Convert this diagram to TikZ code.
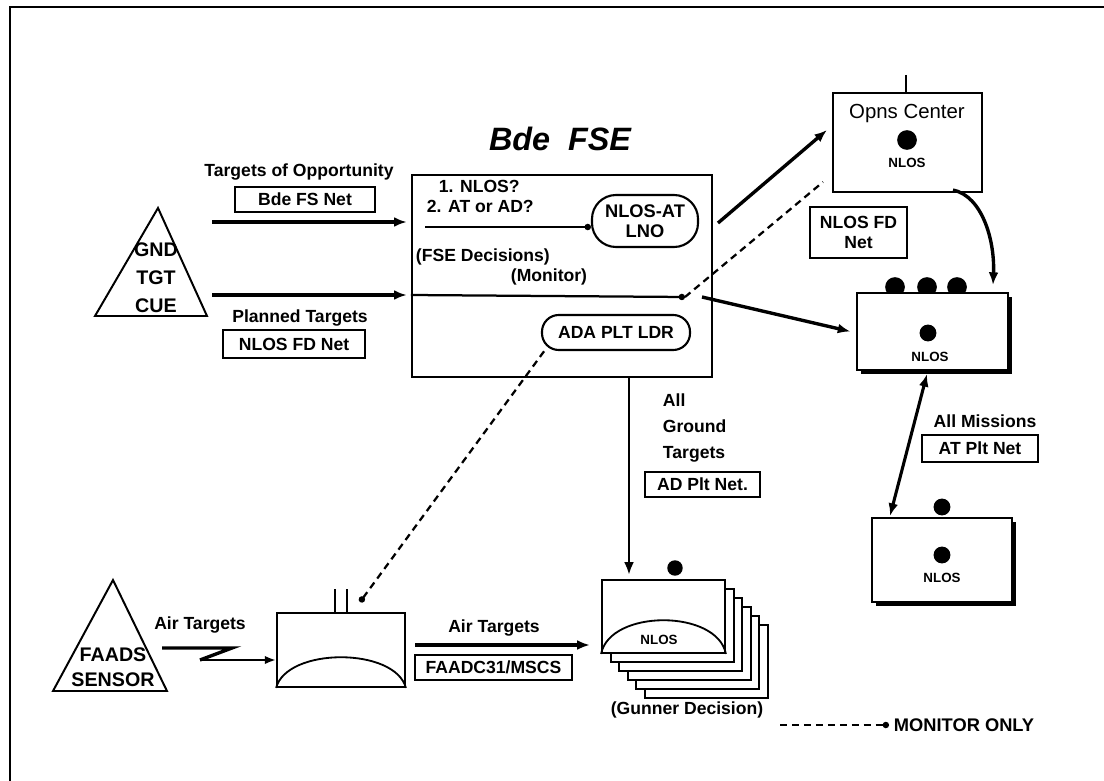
\documentclass[tikz,border=0pt]{standalone}
\usepackage{fontspec}
\setmainfont{Liberation Sans}
\usetikzlibrary{arrows.meta,shadows}

\begin{document}
\begin{tikzpicture}[x=0.025cm,y=-0.025cm,font=\bfseries\fontsize{12.5}{14}\selectfont,
  netbox/.style={draw,line width=1.3pt,inner sep=0pt},
  oval/.style={draw,line width=1.5pt,align=center,inner sep=0pt},
  unit/.style={draw,line width=1.3pt,fill=white,inner sep=0pt},
  shade/.style={drop shadow={shadow xshift=3pt,shadow yshift=-3pt,opacity=1,fill=black}},
  heavy/.style={line width=2.4pt,-{Latex[length=9pt,width=7pt]}},
  monitor/.style={line width=1.6pt,dash pattern=on 5pt off 3.5pt},
  small/.style={font=\bfseries\fontsize{9.5}{10}\selectfont}]
  \useasboundingbox (0,0) rectangle (1104,781);
  % page frame
  \draw[line width=1.6pt] (10,781) -- (10,7) -- (1104,7);

  % ground target cue
  \draw[line width=1.4pt] (158,208) -- (95,316) -- (207,316) -- cycle;
  \node[align=center,font=\bfseries\fontsize{14}{20}\selectfont] (gnd) at (156,278) {GND\\TGT\\CUE};
  \node (opp) at (299,172) {Targets of Opportunity};
  \node[netbox,minimum width=3.5cm,minimum height=0.625cm] (fsnet) at (305,199.5) {Bde FS Net};
  \node (plan) at (300,318) {Planned Targets};
  \node[netbox,minimum width=3.55cm,minimum height=0.7cm] (fdnet) at (294,344) {NLOS FD Net};

  % brigade fire support element
  \node[font=\bfseries\itshape\fontsize{23}{24}\selectfont] (title) at (560,139) {Bde\ \ FSE};
  \node[draw,line width=1.4pt,minimum width=7.5cm,minimum height=5.05cm] (fse) at (562,276) {};
  \node[anchor=west] (q1) at (434,186) {1. NLOS?};
  \node[anchor=west] (q2) at (422,206) {2. AT or AD?};
  \node[anchor=west] (dec) at (411,257) {(FSE Decisions)};
  \node (watch) at (549,277) {(Monitor)};
  \node[oval,minimum width=2.65cm,minimum height=1.3cm,rounded corners=0.6cm,
    font=\bfseries\fontsize{13}{14}\selectfont] (lno) at (645,221) {NLOS-AT\\LNO};
  \node[oval,minimum width=3.7cm,minimum height=0.875cm,rounded corners=0.42cm] (ada) at (616,332.5) {ADA PLT LDR};
  \coordinate (q2s) at (425,227);
  \draw[line width=1.6pt,-{Circle[length=4.5pt]}] (q2s) -- (q2s -| lno.west);

  \coordinate (t1) at (212,222);
  \coordinate (t2) at (212,295);
  \draw[heavy] (t1) -- ([xshift=-3pt]t1 -| fse.west);
  \draw[heavy] (t2) -- ([xshift=-3pt]t2 -| fse.west);
  \coordinate (mon) at (685,297);
  \draw[line width=1.6pt,-{Circle[length=4.5pt]}] (t2 -| fse.west) -- (mon);

  % operations center
  \draw[line width=1.3pt] (906,75) -- (906,93);
  \node[unit,minimum width=3.725cm,minimum height=2.475cm] (opns) at (907.5,142.5) {};
  \node[font=\mdseries\fontsize{14.5}{15}\selectfont] (opnsl) at (907,113) {Opns Center};
  \fill (907,140) circle (7pt);
  \node[small] (nl1) at (907,163) {NLOS};
  \coordinate (fsea) at (718,223);
  \coordinate (opnsa) at (827,130);
  \draw[heavy] (fsea) -- (opnsa);
  \coordinate (opnsb) at (823,182);
  \draw[monitor] (mon) -- (opnsb);
  \node[netbox,minimum width=2.425cm,minimum height=1.275cm,align=center] (fdnet2) at (858.5,232.5) {NLOS FD\\Net};

  % NLOS platoon
  \foreach \x in {895,927,957} \fill (\x,287) circle (7pt);
  \node[unit,shade,minimum width=3.775cm,minimum height=1.925cm] (plt) at (932.5,331.5) {};
  \fill (928,333) circle (6pt);
  \node[small] (nl2) at (930,357) {NLOS};
  \coordinate (fseb) at (702,297);
  \draw[heavy] (fseb) -- ([xshift=-4pt]plt.west);
  \coordinate (opnsc) at (953,190);
  \coordinate (pltn) at (993,285);
  \draw[heavy] (opnsc) .. controls (982,196) and (995,240) .. (pltn);

  % NLOS section
  \fill (942,507) circle (6pt);
  \node[unit,shade,minimum width=3.5cm,minimum height=2.1cm] (sec) at (942,560) {};
  \fill (942,555) circle (6pt);
  \node[small] (nl3) at (942,578) {NLOS};
  \coordinate (plts) at (927,374);
  \coordinate (secn) at (890,516);
  \draw[line width=2.2pt,{Latex[length=9pt,width=7pt]}-{Latex[length=9pt,width=7pt]}] (plts) -- (secn);
  \node (allm) at (985,421) {All Missions};
  \node[netbox,minimum width=2.9cm,minimum height=0.675cm] (atnet) at (980,448.5) {AT Plt Net};

  % NLOS gunners
  \foreach \i in {5,4,3,2,1}
    \draw[unit] (602+\i*8.6,580+\i*9) rectangle (725+\i*8.6,653+\i*9);
  \fill (675,568) circle (5.5pt);
  \node[unit,minimum width=3.075cm,minimum height=1.825cm] (gun) at (663.5,616.5) {};
  \draw[line width=1.3pt] (gun.south west) .. controls (610,609) and (717,609) .. (gun.south east);
  \node[small] (nl4) at (659,640) {NLOS};
  \node (gdec) at (687,710) {(Gunner Decision)};
  \coordinate (ads) at (629,377);
  \draw[line width=1.8pt,-{Latex[length=9pt,width=7pt]}] (ads) -- ([yshift=3pt]ads |- gun.north);
  \node[anchor=west,align=left,font=\bfseries\fontsize{12.5}{18.5}\selectfont] (agt) at (658,428) {All\\Ground\\Targets};
  \node[netbox,minimum width=2.875cm,minimum height=0.625cm] (adnet) at (702.5,484.5) {AD Plt Net.};

  % air defense sensor and radar
  \draw[line width=1.4pt] (113,580) -- (53,691) -- (167,691) -- cycle;
  \node[align=center,font=\bfseries\fontsize{14}{18}\selectfont] (faads) at (113,667) {FAADS\\SENSOR};
  \node (air1) at (200,625) {Air Targets};
  \draw[line width=1.3pt] (335,589) -- (335,613) (347,589) -- (347,613);
  \node[unit,minimum width=3.2cm,minimum height=1.85cm] (rad) at (341,650) {};
  \draw[line width=1.3pt] (rad.south west) .. controls (287,647) and (395,647) .. (rad.south east);
  \coordinate (zs) at (162,648);
  \coordinate (zb) at (232,648);
  \coordinate (zm) at (200,660);
  \draw[line width=2.4pt] (zs) -- (zb) -- (zm);
  \draw[line width=1.8pt,-{Latex[length=8pt,width=6pt]}] (zm) -- (zm -| rad.west);
  \coordinate (radant) at (360,602);
  \coordinate (adab) at (545,350);
  \draw[monitor,{Circle[length=4.5pt]}-] (radant) -- (adab);
  \coordinate (ats) at (415,645);
  \draw[heavy] (ats) -- ([xshift=-8pt]ats -| gun.west);
  \node (air2) at (494,628) {Air Targets};
  \node[netbox,minimum width=3.925cm,minimum height=0.625cm] (faadc) at (493.5,667.5) {FAADC31/MSCS};

  % legend
  \coordinate (lg) at (780,725);
  \node[anchor=west,font=\bfseries\fontsize{13}{14}\selectfont] (legend) at (889,725) {MONITOR ONLY};
  \draw[monitor,-{Circle[length=4.5pt]}] (lg) -- (legend.west);
\end{tikzpicture}
\end{document}
